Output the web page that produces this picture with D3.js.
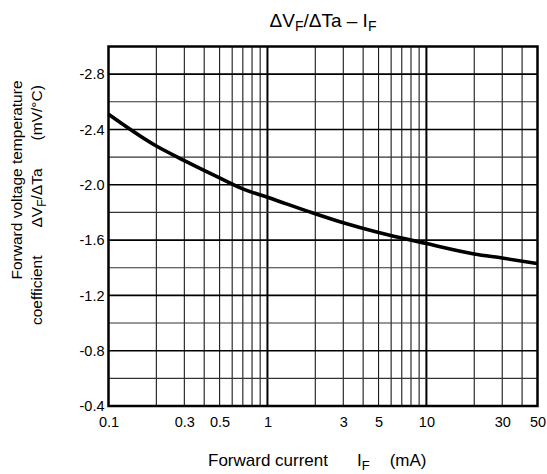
<!DOCTYPE html>
<html>
<head>
<meta charset="utf-8">
<script src="https://cdn.jsdelivr.net/npm/d3@7"></script>
<style>
  html, body { margin: 0; padding: 0; background: #fff; }
  svg { display: block; font-family: "Liberation Sans", Arial, sans-serif; }
  text { fill: #000; }
</style>
</head>
<body>
<svg id="chart" width="547" height="474"></svg>
<script>
// ---- data ----
const currentMA = [0.1, 0.2, 0.3, 0.5, 0.7, 1, 2, 3, 5, 7, 10, 20, 30, 50];
const coeffMVperC = [-2.51, -2.28, -2.175, -2.05, -1.97, -1.91, -1.79, -1.725, -1.655, -1.615, -1.575, -1.50, -1.47, -1.43];
const xTickValues = [0.1, 0.3, 0.5, 1, 3, 5, 10, 30, 50];
const xTickLabels = ["0.1", "0.3", "0.5", "1", "3", "5", "10", "30", "50"];
const yTickValues = [-0.4, -0.8, -1.2, -1.6, -2.0, -2.4, -2.8];
const yTickLabels = ["-0.4", "-0.8", "-1.2", "-1.6", "-2.0", "-2.4", "-2.8"];
const xGridValues = [0.2,0.3,0.4,0.5,0.6,0.7,0.8,0.9,2,3,4,5,6,7,8,9,20,30,40];
const xDecadeValues = [1, 10];
const yMinorValues = [-0.6, -1.0, -1.4, -1.8, -2.2, -2.6];
const yMajorValues = [-0.8, -1.2, -1.6, -2.0, -2.4, -2.8];

const svg = d3.select("#chart");
const L = 108.5, R = 537.5, T = 46.5, B = 406;

const x = d3.scaleLog().domain([0.1, 50]).range([L, R]);
const y = d3.scaleLinear().domain([-0.4, -3.0]).range([B, T]);

const grid = svg.append("g");
grid.selectAll("line.xm").data(xGridValues).join("line")
  .attr("x1", d => x(d)).attr("x2", d => x(d)).attr("y1", T).attr("y2", B)
  .attr("stroke", "#1a1a1a").attr("stroke-width", 1.1);
grid.selectAll("line.xd").data(xDecadeValues).join("line")
  .attr("x1", d => x(d)).attr("x2", d => x(d)).attr("y1", T).attr("y2", B)
  .attr("stroke", "#000").attr("stroke-width", 2);
grid.selectAll("line.ym").data(yMinorValues).join("line")
  .attr("x1", L).attr("x2", R).attr("y1", d => y(d)).attr("y2", d => y(d))
  .attr("stroke", "#333").attr("stroke-width", 1.1);
grid.selectAll("line.yM").data(yMajorValues).join("line")
  .attr("x1", L).attr("x2", R).attr("y1", d => y(d)).attr("y2", d => y(d))
  .attr("stroke", "#000").attr("stroke-width", 1.6);

// border
svg.append("rect").attr("x", L).attr("y", T).attr("width", R - L).attr("height", B - T)
  .attr("fill", "none").attr("stroke", "#000").attr("stroke-width", 2.5);

// curve
const line = d3.line().x((d, i) => x(currentMA[i])).y(d => y(d)).curve(d3.curveMonotoneX);
svg.append("path").datum(coeffMVperC).attr("d", line)
  .attr("fill", "none").attr("stroke", "#000").attr("stroke-width", 3.6)
  .attr("stroke-linecap", "butt");

// axes
const xAxis = d3.axisBottom(x).tickValues(xTickValues).tickSize(0).tickPadding(11)
  .tickFormat((d, i) => xTickLabels[i]);
const gx = svg.append("g").attr("transform", `translate(0,${B})`).call(xAxis);
gx.select(".domain").remove();
gx.selectAll("text").attr("font-size", 14.5).attr("font-family", "Liberation Sans, Arial, sans-serif").attr("fill", "#000");

const yAxis = d3.axisLeft(y).tickValues(yTickValues).tickSize(0).tickPadding(4)
  .tickFormat((d, i) => yTickLabels[i]);
const gy = svg.append("g").attr("transform", `translate(${L},0)`).call(yAxis);
gy.select(".domain").remove();
gy.selectAll("text").attr("font-size", 14.5).attr("font-family", "Liberation Sans, Arial, sans-serif").attr("fill", "#000");

// title
const title = svg.append("text").attr("x", (L + R) / 2).attr("y", 27)
  .attr("text-anchor", "middle").attr("font-size", 19);
title.append("tspan").text("ΔV");
title.append("tspan").attr("font-size", 14).attr("dy", 4).text("F");
title.append("tspan").attr("dy", -4).text("/ΔTa – I");
title.append("tspan").attr("font-size", 14).attr("dy", 4).text("F");

// x label
const xl = svg.append("text").attr("x", 208).attr("y", 466)
  .attr("text-anchor", "start").attr("font-size", 17);
xl.append("tspan").text("Forward current");
xl.append("tspan").attr("dx", 29).text("I");
xl.append("tspan").attr("font-size", 13).attr("dy", 4).text("F");
xl.append("tspan").attr("dx", 20).attr("dy", -4).text("(mA)");

// y label
svg.append("text").attr("transform", "translate(22,180) rotate(-90)")
  .attr("text-anchor", "middle").attr("font-size", 15.5).text("Forward voltage temperature");
const yl2 = svg.append("text").attr("transform", "translate(42,325) rotate(-90)")
  .attr("text-anchor", "start").attr("font-size", 15.5);
yl2.append("tspan").text("coefficient");
yl2.append("tspan").attr("dx", 28).text("ΔV");
yl2.append("tspan").attr("font-size", 12).attr("dy", 4).text("F");
yl2.append("tspan").attr("dy", -4).text("/ΔTa");
yl2.append("tspan").attr("dx", 28).text("(mV/°C)");
</script>
</body>
</html>
